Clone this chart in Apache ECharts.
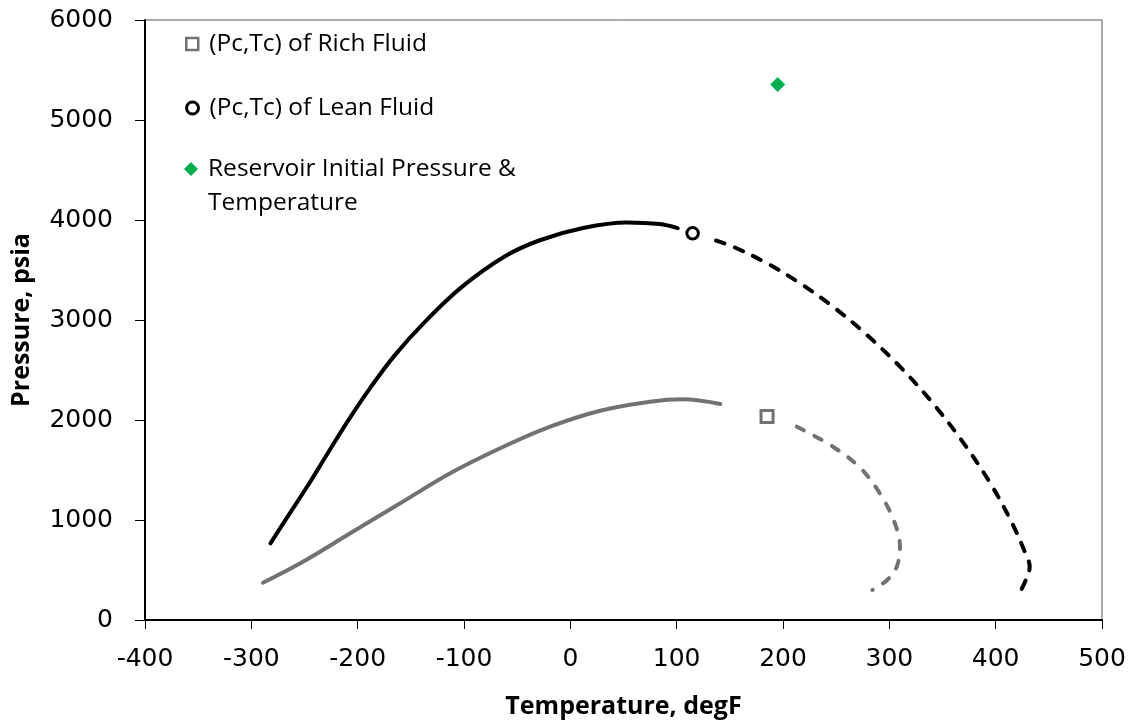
<!DOCTYPE html>
<html>
<head>
<meta charset="utf-8">
<script src="https://cdn.jsdelivr.net/npm/echarts@6/dist/echarts.min.js"></script>
<style>
  html, body { margin: 0; padding: 0; background: #fff; }
  #chart { width: 1131px; height: 725px; }
</style>
</head>
<body>
<div id="chart"></div>
<script>
// Phase envelopes (temperature in degF, pressure in psia)
const leanSolidT = [-282, -266, -247, -228, -209, -188, -165, -137, -102, -61, -28, 12, 53, 84, 101];
const leanSolidP = [767, 1032, 1342, 1670, 1994, 2324, 2649, 2979, 3331, 3640, 3800, 3920, 3975, 3959, 3918];

const leanDashT = [137, 153, 185, 216, 247, 279, 310, 341, 370, 395, 414, 428, 432, 429, 424];
const leanDashP = [3795, 3733, 3567, 3367, 3133, 2850, 2533, 2167, 1767, 1367, 1000, 667, 533, 417, 300];

const richSolidT = [-289, -254, -207, -160, -113, -66, -19, 28, 75, 106, 141];
const richSolidP = [373, 567, 867, 1167, 1467, 1717, 1933, 2093, 2183, 2207, 2160];

const richDashT = [213, 247, 273, 291, 304, 310, 307, 298, 284];
const richDashP = [1933, 1733, 1517, 1267, 1000, 733, 533, 400, 300];

// Critical points and reservoir condition
const richCritical = [185, 2035];
const leanCritical = [115, 3867];
const reservoirInitial = [195, 5355];

const xTicks = [-400, -300, -200, -100, 0, 100, 200, 300, 400, 500];
const yTicks = [0, 1000, 2000, 3000, 4000, 5000, 6000];

const RICH = '(Pc,Tc) of Rich Fluid';
const LEAN = '(Pc,Tc) of Lean Fluid';
const RES = 'Reservoir Initial Pressure & Temperature';

const GREY = '#767171';
const BLACK = '#000000';
const GREEN = '#00B050';

const pairs = (xs, ys) => xs.map((x, i) => [x, ys[i]]);

function curve(name, xs, ys, color, dash) {
  return {
    name: name,
    type: 'line',
    data: pairs(xs, ys),
    smooth: 0.35,
    symbol: 'none',
    showSymbol: false,
    silent: true,
    z: 2,
    lineStyle: {
      color: color,
      width: 4,
      type: dash || 'solid',
      cap: 'round',
      join: 'round'
    }
  };
}

const legendFont = { fontFamily: 'Open Sans', fontSize: 24.5, color: '#000' };

function legendFor(name, left, top, size, borderWidth, extraText, formatter) {
  const opt = {
    data: [name],
    orient: 'vertical',
    left: left,
    top: top,
    padding: 0,
    itemWidth: size,
    itemHeight: size,
    selectedMode: false,
    itemStyle: { borderWidth: borderWidth },
    textStyle: Object.assign({}, legendFont, extraText)
  };
  if (formatter) opt.formatter = formatter;
  return opt;
}

const tickFont = { fontFamily: 'DejaVu Sans', fontSize: 25, color: '#000' };
const titleFont = { fontFamily: 'Open Sans', fontWeight: 'bold', fontSize: 25, color: '#000' };

const chart = echarts.init(document.getElementById('chart'), null, { renderer: 'canvas' });

chart.setOption({
  animation: false,
  backgroundColor: '#fff',
  grid: {
    left: 145, right: 29, top: 20, bottom: 105,
    show: true,
    borderColor: '#595959',
    borderWidth: 1,
    backgroundColor: 'transparent'
  },
  xAxis: {
    type: 'value',
    min: xTicks[0],
    max: xTicks[xTicks.length - 1],
    interval: 100,
    name: 'Temperature, degF',
    nameLocation: 'middle',
    nameGap: 74,
    nameTextStyle: titleFont,
    axisLine: { show: true, onZero: false, lineStyle: { color: '#000', width: 2 } },
    axisTick: { show: true, inside: false, length: 9, lineStyle: { color: '#000', width: 1 } },
    axisLabel: Object.assign({ margin: 27, formatter: v => String(v) }, tickFont),
    splitLine: { show: false }
  },
  yAxis: {
    type: 'value',
    min: yTicks[0],
    max: yTicks[yTicks.length - 1],
    interval: 1000,
    name: 'Pressure, psia',
    nameLocation: 'middle',
    nameGap: 111,
    nameTextStyle: titleFont,
    axisLine: { show: true, onZero: false, lineStyle: { color: '#000', width: 2 } },
    axisTick: { show: true, inside: false, length: 10, lineStyle: { color: '#000', width: 1 } },
    axisLabel: Object.assign({ margin: 32, formatter: v => String(v) }, tickFont),
    splitLine: { show: false }
  },
  legend: [
    legendFor(RICH, 185, 29, 12, 2.5, { lineHeight: 30, padding: [0, 0, 0, 6] }),
    legendFor(LEAN, 185, 93, 12, 3, { lineHeight: 30, padding: [0, 0, 0, 6] }),
    // the blank first line keeps the icon level with the first line of text
    legendFor(RES, 184, 118, 14, 0, { lineHeight: 34, padding: [0, 0, 0, 5] },
      () => ' \nReservoir Initial Pressure &\nTemperature')
  ],
  series: [
    curve('leanSolid', leanSolidT, leanSolidP, BLACK),
    curve('leanDash', leanDashT, leanDashP, BLACK, [9, 11]),
    curve('richSolid', richSolidT, richSolidP, GREY),
    curve('richDash', richDashT, richDashP, GREY, [8, 12]),
    {
      name: RICH,
      type: 'scatter',
      data: [richCritical],
      symbol: 'rect',
      symbolSize: 12,
      z: 5,
      itemStyle: { color: '#fff', borderColor: GREY, borderWidth: 3, opacity: 1 }
    },
    {
      name: LEAN,
      type: 'scatter',
      data: [leanCritical],
      symbol: 'circle',
      symbolSize: 11.5,
      z: 5,
      itemStyle: { color: '#fff', borderColor: BLACK, borderWidth: 3, opacity: 1 }
    },
    {
      name: RES,
      type: 'scatter',
      data: [reservoirInitial],
      symbol: 'diamond',
      symbolSize: 15,
      z: 5,
      itemStyle: { color: GREEN, borderWidth: 0, opacity: 1 }
    }
  ]
});
</script>
</body>
</html>
